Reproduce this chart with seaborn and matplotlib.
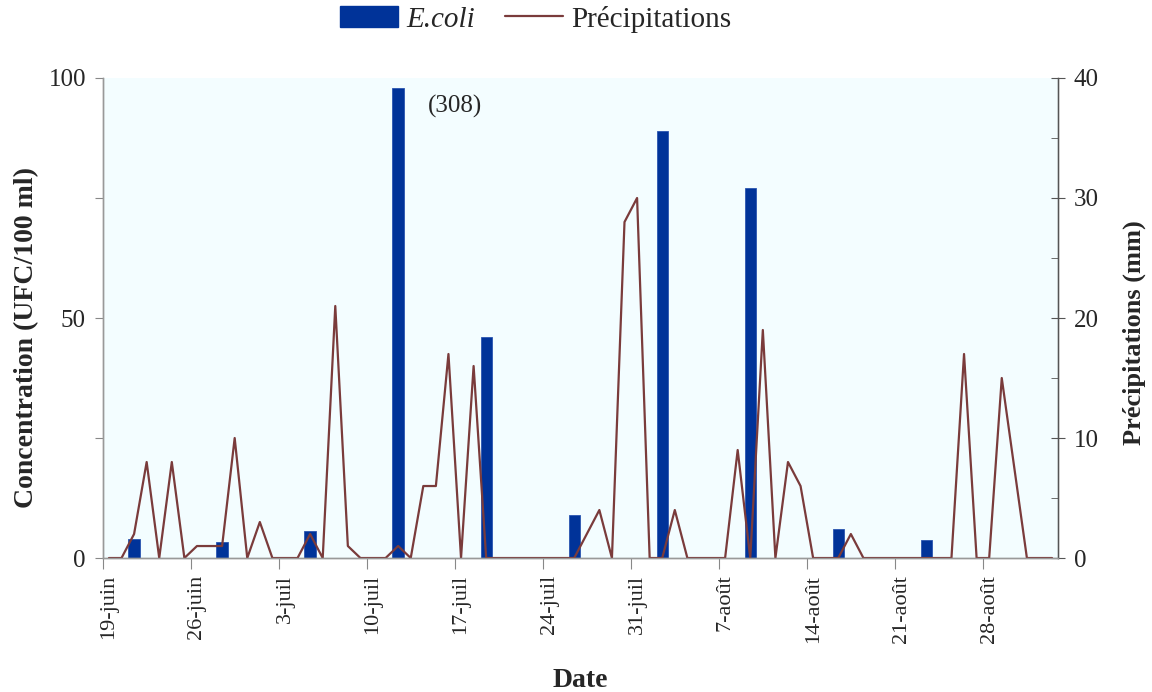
import numpy as np
import pandas as pd
import matplotlib
matplotlib.use("Agg")
import matplotlib.pyplot as plt
import seaborn as sns
from matplotlib.lines import Line2D
from matplotlib.patches import Patch

# daily series from 19-juin (day 0) to 2-sept (day 75)
days = list(range(76))
precip_mm = [0, 0, 2, 8, 0, 8, 0, 1, 1, 1,
             10, 0, 3, 0, 0, 0, 2, 0, 21, 1,
             0, 0, 0, 1, 0, 6, 6, 17, 0, 16,
             0, 0, 0, 0, 0, 0, 0, 0, 2, 4,
             0, 28, 30, 0, 0, 4, 0, 0, 0, 0,
             9, 0, 19, 0, 8, 6, 0, 0, 0, 2,
             0, 0, 0, 0, 0, 0, 0, 0, 17, 0,
             0, 15, 7.5, 0, 0, 0]
# weekly E.coli samples
sample_days = [2, 9, 16, 23, 30, 37, 44, 51, 58, 65]
ecoli = [4, 3.4, 5.7, 98, 46, 9, 89, 77, 6, 3.7]
tick_days = [0, 7, 14, 21, 28, 35, 42, 49, 56, 63, 70]
tick_labels = ["19-juin", "26-juin", "3-juil", "10-juil", "17-juil", "24-juil",
               "31-juil", "7-août", "14-août", "21-août", "28-août"]

df = pd.DataFrame({"day": days, "precip": precip_mm})
df["ecoli"] = np.nan
df.loc[df["day"].isin(sample_days), "ecoli"] = ecoli

sns.set_style("white")
plt.rcParams["font.family"] = ["Liberation Serif", "DejaVu Serif"]

blue = "#003399"
brown = "#7a3b3b"

fig = plt.figure(figsize=(11.52, 6.92), dpi=100)
ax = fig.add_axes([0.0891, 0.1936, 0.8296, 0.6937])
ax.set_facecolor("#f3fdff")

sns.barplot(data=df, x="day", y="ecoli", color=blue, width=0.9,
            saturation=1, edgecolor="#2a55b0", linewidth=0.6, ax=ax)
ax.set_xlim(-0.5, 75.5)
ax.set_ylim(0, 100)
ax.set_yticks([0, 25, 50, 75, 100], ["0", "", "50", "", "100"])

ax2 = ax.twinx()
sns.lineplot(data=df, x="day", y="precip", color=brown, linewidth=1.6, ax=ax2)
ax2.set_ylim(0, 40)
ax2.set_yticks([0, 10, 20, 30, 40], ["0", "10", "20", "30", "40"])
ax2.set_yticks([5, 15, 25, 35], minor=True)
ax2.set_xlim(-0.5, 75.5)

# x ticks: labels on the weeks, small ticks on each day boundary
ax.set_xticks(tick_days, tick_labels, rotation=90)
ax.set_xticks(np.arange(-0.5, 76, 1), minor=True)
ax.tick_params(axis="x", which="major", length=0, labelsize=16, pad=12)
ax.tick_params(axis="x", which="minor", length=4, color="#888888")
sec = ax.secondary_xaxis("bottom")
sec.set_xticks(np.arange(-0.5, 76, 7), [])
sec.tick_params(length=8, color="#888888")
sec.spines["bottom"].set_visible(False)

ax.tick_params(axis="y", length=6, color="#888888", labelsize=18, left=True, pad=6)
ax2.tick_params(axis="y", which="major", length=10, direction="inout",
                color="#555555", labelsize=18, right=True, pad=6)
ax2.tick_params(axis="y", which="minor", length=5, direction="in",
                color="#555555", right=True)

for a in (ax, ax2):
    for s in a.spines.values():
        s.set_color("#999999")
        s.set_linewidth(1)
ax2.spines["right"].set_color("#555555")
ax.spines["top"].set_visible(False)
ax2.spines["top"].set_visible(False)

ax.set_xlabel("Date", fontsize=20, fontweight="bold", labelpad=18)
ax.set_ylabel("Concentration (UFC/100 ml)", fontsize=20, fontweight="bold")
ax2.set_ylabel("Précipitations (mm)", fontsize=19, fontweight="bold")
ax.yaxis.set_label_coords(-0.066, 0.46)
ax2.yaxis.set_label_coords(1.067, 0.47)

ax.text(27.5, 94, "(308)", fontsize=18, ha="center", va="center")

handles = [Patch(facecolor=blue, edgecolor=blue),
           Line2D([0], [0], color=brown, linewidth=1.6)]
fig.legend(handles, ["E.coli", "Précipitations"], loc="center",
           bbox_to_anchor=(0.465, 0.972), ncol=2, frameon=False, fontsize=21,
           handlelength=2.0, handleheight=0.75, columnspacing=1.0, handletextpad=0.3)
leg = fig.legends[0]
leg.get_texts()[0].set_fontstyle("italic")

fig.savefig("out.png", dpi=100)
